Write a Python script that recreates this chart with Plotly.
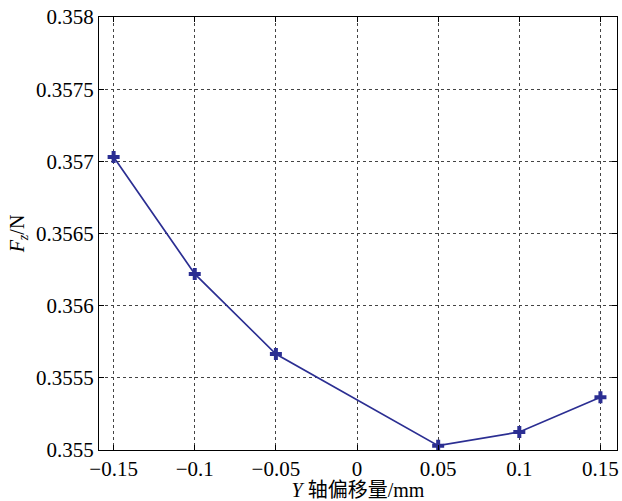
import plotly.graph_objects as go

x_offset = [-0.15, -0.1, -0.05, 0.05, 0.1, 0.15]
fz = [0.35703, 0.35622, 0.355665, 0.35503, 0.355125, 0.355365]

x_ticks = [-0.15, -0.1, -0.05, 0, 0.05, 0.1, 0.15]
x_ticklabels = ["\u22120.15", "\u22120.1", "\u22120.05", "0", "0.05", "0.1", "0.15"]
y_ticks = [0.355, 0.3555, 0.356, 0.3565, 0.357, 0.3575, 0.358]
y_ticklabels = ["0.355", "0.3555", "0.356", "0.3565", "0.357", "0.3575", "0.358"]

font_family = "Liberation Serif, Times New Roman, Noto Sans CJK SC, serif"
line_color = "#2b2e92"

fig = go.Figure()
fig.add_trace(go.Scatter(
    x=x_offset, y=fz, mode="lines+markers",
    line=dict(color=line_color, width=1.7),
    marker=dict(symbol="cross", size=10, color=line_color),
    showlegend=False,
))

axis_common = dict(
    showline=True, linecolor="black", linewidth=1, mirror="ticks",
    ticks="inside", ticklen=5, tickwidth=1.2, tickcolor="black",
    showgrid=True, gridcolor="#444444", gridwidth=1, griddash="3px,3px",
    zeroline=False,
    tickfont=dict(family=font_family, size=21, color="black"),
)

fig.update_layout(
    width=622, height=501,
    margin=dict(l=99, r=3, t=17, b=51),
    paper_bgcolor="white", plot_bgcolor="white",
    font=dict(family=font_family, color="black"),
    xaxis=dict(range=[-0.159, 0.1602], tickvals=x_ticks, ticktext=x_ticklabels,
               title=dict(text="<i>Y</i> 轴偏移量/mm", font=dict(size=20), standoff=2),
               **axis_common),
    yaxis=dict(range=[0.355, 0.358], tickvals=y_ticks, ticktext=y_ticklabels,
               title=dict(text="<i>F</i><sub><i>z</i></sub>/N", font=dict(size=20), standoff=6),
               **axis_common),
)

fig.write_html("out.html", config={"displayModeBar": False},
               post_script="document.body.style.margin='0';document.body.style.overflow='hidden';")
